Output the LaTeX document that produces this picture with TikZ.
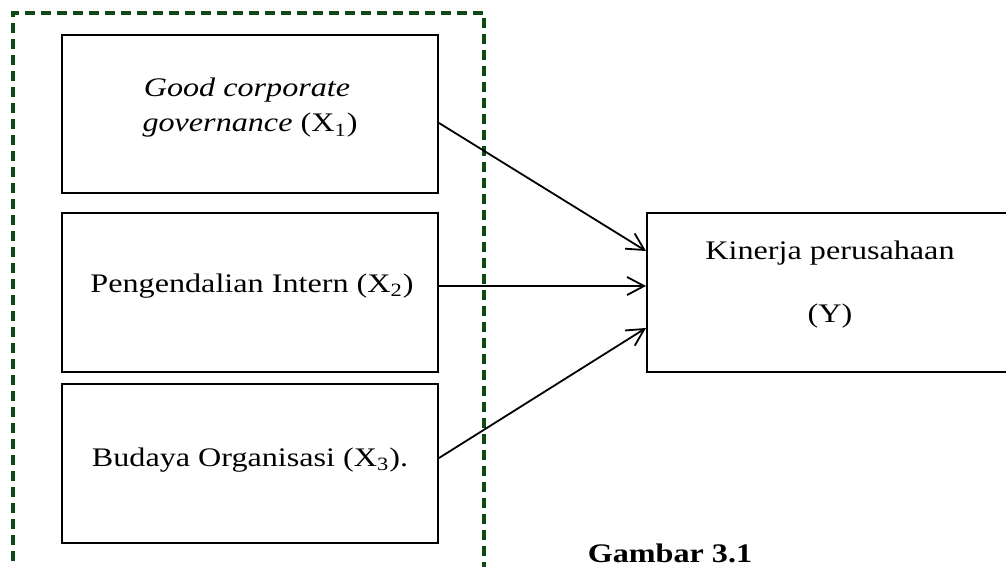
\documentclass[tikz,border=0pt]{standalone}
\usepackage{fontspec}
\setmainfont{Liberation Serif}[FakeStretch=1.2]
\usetikzlibrary{arrows.meta}
\definecolor{grpgreen}{RGB}{14,72,18}
\tikzset{
  box/.style={draw=black, line width=1pt, rectangle, inner sep=0pt},
  lbl/.style={anchor=base, inner sep=0pt, font=\fontsize{13.4}{16}\selectfont},
  grp/.style={draw=grpgreen, line width=1.6pt, dash pattern=on 5pt off 3pt, rectangle, inner sep=0pt},
  conn/.style={line width=0.9pt, -{Straight Barb[length=8.5pt,width=9pt,line width=0.9pt]}},
}
\begin{document}
\begin{tikzpicture}[x=0.5pt,y=-0.5pt]
\useasboundingbox (0,0) rectangle (1006,567);
\clip (0,0) rectangle (1006,567);
% dashed group frame (extends past bottom edge)
\node[grp, minimum width=235.5pt, minimum height=300pt] (grp) at (248.5,313) {};
% boxes
\node[box, minimum width=188pt, minimum height=79pt] (b1) at (250,114) {};
\node[box, minimum width=188pt, minimum height=79.5pt] (b2) at (250,292.5) {};
\node[box, minimum width=188pt, minimum height=79.5pt] (b3) at (250,463.5) {};
\node[box, minimum width=181.5pt, minimum height=79.5pt] (by) at (828.5,292.5) {};
% labels
\node[lbl] (t1a) at (247,97) {\textit{Good corporate}};
\node[lbl] (t1b) at (250,132) {\textit{governance} (X\textsubscript{1})};
\node[lbl] (t2) at (252,292) {Pengendalian Intern (X\textsubscript{2})};
\node[lbl] (t3) at (250,466) {Budaya Organisasi (X\textsubscript{3}).};
\node[lbl] (ty1) at (830,259) {Kinerja perusahaan};
\node[lbl] (ty2) at (830,322) {(Y)};
\node[lbl, font=\fontsize{13.4}{16}\selectfont\bfseries] (cap) at (670,562) {Gambar 3.1};
% connectors
\draw[conn] ([yshift=-4.5pt]b1.east) -- ([yshift=20.75pt]by.west);
\draw[conn] ([yshift=3.25pt]b2.east) -- ([yshift=3.25pt]by.west);
\draw[conn] ([yshift=2.75pt]b3.east) -- ([yshift=-17.75pt]by.west);
\end{tikzpicture}
\end{document}
